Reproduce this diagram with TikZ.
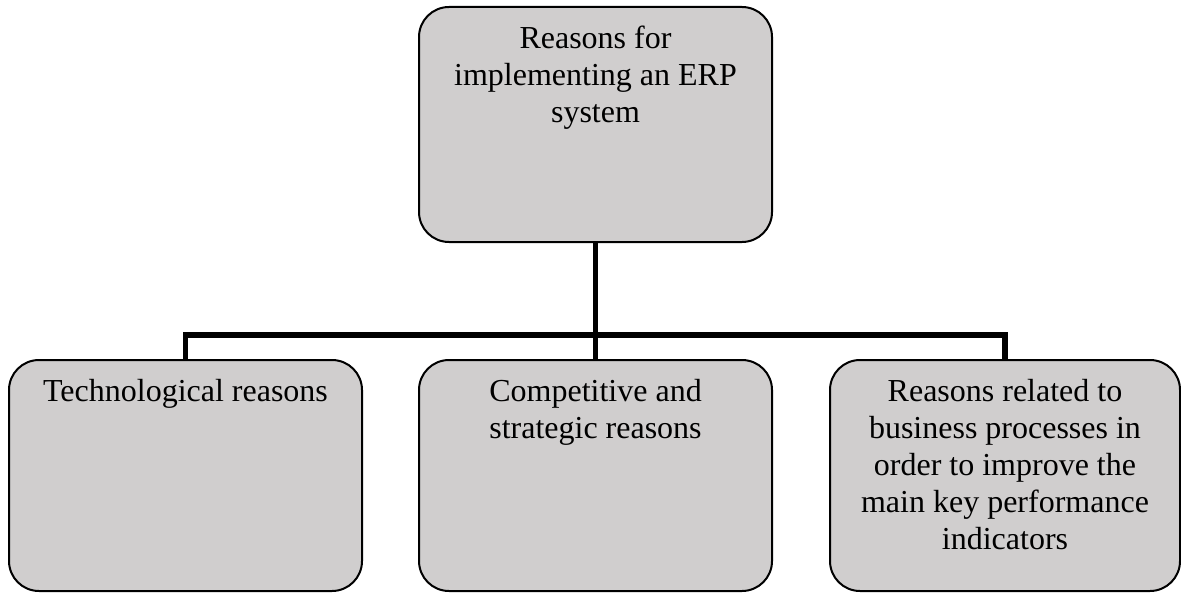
\documentclass[tikz,border=0pt]{standalone}
\usepackage{fontspec}
\setmainfont{Liberation Serif}
\definecolor{boxgray}{RGB}{208,206,206}
\begin{document}
\begin{tikzpicture}[x=0.5pt,y=-0.5pt,
  box/.style={draw=black, line width=1pt, fill=boxgray, rounded corners=15pt,
    inner sep=0pt, minimum height=#1},
  box/.default=115.5pt,
  lbl/.style={anchor=north, align=center, inner sep=0pt,
    font=\fontsize{16pt}{18.5pt}\selectfont},
  conn/.style={draw=black, line width=2.8pt, line join=miter, line cap=rect}]
\useasboundingbox (0,0) rectangle (1181,593);
% boxes (drawn first as nodes, connectors behind via layering order below)
\coordinate (hb) at (595.5,335);
\path (595.5,124.5) node[box=117.5pt, minimum width=176.5pt, draw=none, fill=none] (top) {};
\path (185.5,475.5) node[box, minimum width=176.5pt, draw=none, fill=none] (left) {};
\path (595.5,475.5) node[box, minimum width=176.5pt, draw=none, fill=none] (mid) {};
\path (1005,475.5) node[box, minimum width=175pt, draw=none, fill=none] (right) {};
% connectors
\draw[conn, line cap=butt] (top.south) -- (mid.north);
\draw[conn, line cap=butt] (left.north) -- (left.north |- hb) -- (right.north |- hb) -- (right.north);
% visible boxes
\node[box=117.5pt, minimum width=176.5pt] (topbox) at (top) {};
\node[box, minimum width=176.5pt] (leftbox) at (left) {};
\node[box, minimum width=176.5pt] (midbox) at (mid) {};
\node[box, minimum width=175pt] (rightbox) at (right) {};
% labels
\node[lbl] (ttop) at ([yshift=-8pt]topbox.north) {\strut Reasons for\\implementing an ERP\\system};
\node[lbl] (tleft) at ([yshift=-8pt]leftbox.north) {\strut Technological reasons};
\node[lbl] (tmid) at ([yshift=-8pt]midbox.north) {\strut Competitive and\\strategic reasons};
\node[lbl] (tright) at ([yshift=-8pt]rightbox.north) {\strut Reasons related to\\business processes in\\order to improve the\\main key performance\\indicators};
\end{tikzpicture}
\end{document}
